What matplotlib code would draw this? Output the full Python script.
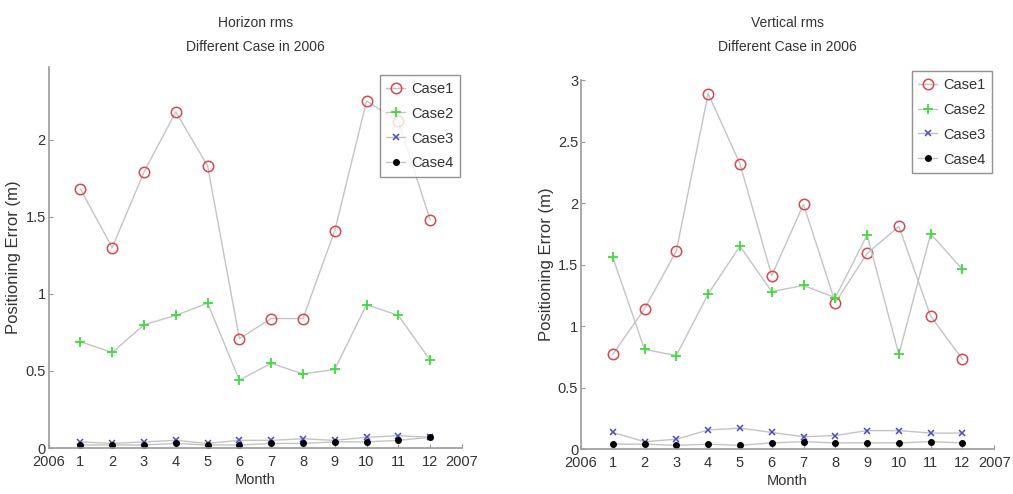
import matplotlib
matplotlib.use("Agg")
import matplotlib.pyplot as plt

plt.rcParams['font.family'] = ['Liberation Sans', 'DejaVu Sans']

months = list(range(1, 13))
xtick_pos = list(range(0, 14))
xtick_labels = ['2006'] + [str(m) for m in months] + ['2007']
case_names = ['Case1', 'Case2', 'Case3', 'Case4']

# Horizontal RMS positioning error (m)
horiz_case1 = [1.68, 1.30, 1.79, 2.18, 1.83, 0.71, 0.84, 0.84, 1.41, 2.25, 2.12, 1.48]
horiz_case2 = [0.69, 0.62, 0.80, 0.86, 0.94, 0.44, 0.55, 0.48, 0.51, 0.93, 0.86, 0.57]
horiz_case3 = [0.04, 0.03, 0.04, 0.05, 0.03, 0.05, 0.05, 0.06, 0.05, 0.07, 0.08, 0.07]
horiz_case4 = [0.02, 0.02, 0.02, 0.03, 0.02, 0.02, 0.03, 0.03, 0.04, 0.04, 0.05, 0.07]

# Vertical RMS positioning error (m)
vert_case1 = [0.77, 1.14, 1.61, 2.89, 2.32, 1.41, 1.99, 1.19, 1.59, 1.81, 1.08, 0.73]
vert_case2 = [1.56, 0.81, 0.76, 1.26, 1.65, 1.28, 1.33, 1.23, 1.74, 0.77, 1.75, 1.46]
vert_case3 = [0.135, 0.06, 0.08, 0.155, 0.17, 0.135, 0.10, 0.11, 0.15, 0.15, 0.13, 0.13]
vert_case4 = [0.04, 0.04, 0.03, 0.04, 0.03, 0.05, 0.06, 0.05, 0.05, 0.05, 0.06, 0.05]

styles = [
    dict(marker='o', markersize=7.5, markerfacecolor='none', markeredgecolor='#d9474f', markeredgewidth=1.1),
    dict(marker='+', markersize=7, markeredgecolor='#3fdc3f', markeredgewidth=1.3),
    dict(marker='x', markersize=4.5, markeredgecolor='#4b4bd0', markeredgewidth=1.1),
    dict(marker='.', markersize=8, markeredgecolor='black', markerfacecolor='black'),
]
line_color = '#c4c4c4'
axis_color = '#9a9a9a'
text_color = '#333333'

fig = plt.figure(figsize=(10.13, 4.94), dpi=100)
ax1 = fig.add_axes([0.048, 0.093, 0.408, 0.771])
ax2 = fig.add_axes([0.5735, 0.091, 0.408, 0.747])


def draw(ax, series, title_lines, ylim, yticks):
    for vals, name, st in zip(series, case_names, styles):
        ax.plot(months, vals, color=line_color, linewidth=1.0, label=name, **st)
    ax.set_xlim(0, 13)
    ax.set_ylim(*ylim)
    ax.set_xticks(xtick_pos)
    ax.set_xticklabels(xtick_labels)
    ax.set_yticks(yticks)
    ax.set_yticklabels([('%g' % t) for t in yticks])
    ax.tick_params(direction='in', length=3, colors=axis_color, labelcolor=text_color,
                   labelsize=10.5)
    ax.tick_params(axis='x', pad=5)
    ax.tick_params(axis='y', pad=2)
    for s in ('top', 'right'):
        ax.spines[s].set_visible(False)
    for s in ('left', 'bottom'):
        ax.spines[s].set_color(axis_color)
        ax.spines[s].set_linewidth(1.2)
    ax.set_xlabel('Month', fontsize=10.5, color=text_color, labelpad=3)
    ax.set_ylabel('Positioning Error (m)', fontsize=12, color=text_color, labelpad=3)
    # two-line title placed at a fixed height above both panels
    bb = ax.get_position()
    xc = (bb.x0 + bb.x1) / 2
    fig.text(xc, 1 - 23 / 494, title_lines[0], ha='center', va='center',
             fontsize=10, color=text_color)
    fig.text(xc, 1 - 47 / 494, title_lines[1], ha='center', va='center',
             fontsize=10, color=text_color)
    leg = ax.legend(loc='upper right', fontsize=10.5, frameon=True, fancybox=False,
                    handlelength=1.3, handletextpad=0.4, borderpad=0.45,
                    labelspacing=0.75, borderaxespad=0.15)
    leg.get_frame().set_edgecolor('#777777')
    leg.get_frame().set_linewidth(1.0)
    for t in leg.get_texts():
        t.set_color(text_color)
    return leg


leg1 = draw(ax1, [horiz_case1, horiz_case2, horiz_case3, horiz_case4],
            ('Horizon rms', 'Different Case in 2006'), (0, 2.47), [0, 0.5, 1, 1.5, 2])
leg2 = draw(ax2, [vert_case1, vert_case2, vert_case3, vert_case4],
            ('Vertical rms', 'Different Case in 2006'), (0, 3.0), [0, 0.5, 1, 1.5, 2, 2.5, 3])
leg1.set_bbox_to_anchor((1.0, 0.985), transform=ax1.transAxes)
leg2.set_bbox_to_anchor((1.0, 1.03), transform=ax2.transAxes)

fig.savefig('out.png', dpi=100, facecolor='white')
